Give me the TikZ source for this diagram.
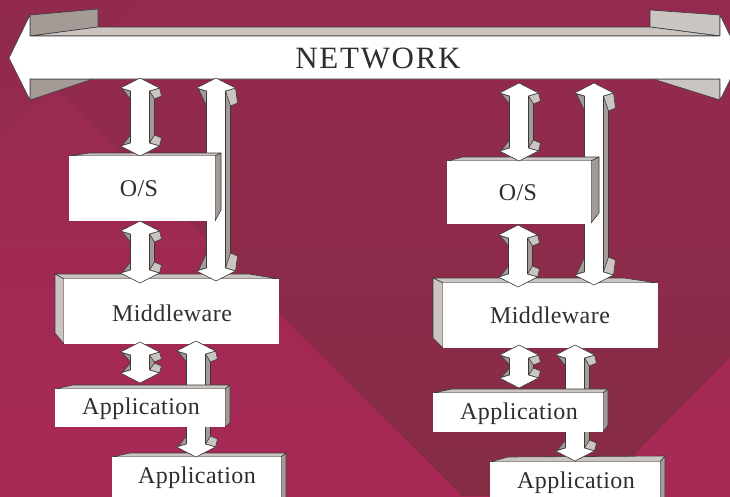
\documentclass[tikz,border=0pt]{standalone}
\usepackage{fontspec}
\setmainfont{Liberation Serif}
\usetikzlibrary{calc}

\definecolor{bgtop}{HTML}{952A50}
\definecolor{bgbot}{HTML}{A92956}
\definecolor{bgdark}{HTML}{862C45}
\definecolor{facelight}{HTML}{CBC5C1}
\definecolor{facedark}{HTML}{A49A96}
\definecolor{edgegray}{HTML}{3A3A3A}
\definecolor{inkgray}{HTML}{2E2E2E}

\tikzset{
  face/.style={draw=edgegray, line width=0.6pt, line join=round},
  frontface/.style={fill=white},
  arrowfront/.style={face, fill=white},
  lightface/.style={face, fill=facelight},
  darkface/.style={face, fill=facedark},
  boxlabel/.style={font=\fontsize{24}{24}\selectfont\addfontfeature{LetterSpace=1.8}, text=inkgray, inner sep=0pt},
  netlabel/.style={font=\fontsize{31}{31}\selectfont\addfontfeature{LetterSpace=5.5}, text=inkgray, inner sep=0pt}
}

% 3D double-headed block arrow between two named tips
% #1 name, #2 centre x, #3 top tip y, #4 bottom tip y, #5 flap depth
\newcommand\dblarrow[5]{%
  \coordinate (#1-top) at (#2,#3);
  \coordinate (#1-bot) at (#2,#4);
  \pgfmathsetmacro\arrL{#4-#3}%
  \begin{scope}[shift={(#1-top)}]
    \draw[darkface] (9.5,13) -- (14.5,16) -- (14.5,\arrL-16) -- (9.5,\arrL-13) -- cycle;
    \draw[lightface] (9.5,13) -- (19.5,10) -- (21.5,10+#5) -- (14.5,13+#5) -- cycle;
    \draw[darkface] (-9.5,13) -- (-17.5,11) -- (-9.5,13+#5) -- cycle;
    \draw[lightface] (9.5,\arrL-13) -- (19.5,\arrL-10) -- (21.5,\arrL-10-#5) -- (14.5,\arrL-13-#5) -- cycle;
    \draw[darkface] (-9.5,\arrL-13) -- (-17.5,\arrL-11) -- (-9.5,\arrL-13-#5) -- cycle;
    \draw[arrowfront] (0,0) -- (19.5,10) -- (9.5,13) -- (9.5,\arrL-13) -- (19.5,\arrL-10)
      -- (0,\arrL) -- (-19.5,\arrL-10) -- (-9.5,\arrL-13) -- (-9.5,13) -- (-19.5,10) -- cycle;
  \end{scope}
}

\begin{document}
\begin{tikzpicture}[x=1pt,y=-1pt]
\useasboundingbox (0,0) rectangle (730,496);
\begin{scope}
\clip (0,0) rectangle (730,496);

% backdrop
\shade[top color=bgtop, bottom color=bgbot] (0,0) rectangle (730,496);
\shade[top color=bgtop, bottom color=bgdark] (-33,0) -- (462,496) -- (594,496) -- (730,357) -- (730,0) -- cycle;
\fill[bgdark, opacity=0.25] (0,0) -- (138,0) -- (0,138) -- cycle;

% network bus
\draw[darkface] (30,15) -- (98,9) -- (98,27) -- (30,36) -- cycle;
\draw[lightface] (720,15) -- (650,10) -- (650,27) -- (720,36) -- cycle;
\draw[lightface] (30,36) -- (98,27) -- (650,27) -- (720,36) -- cycle;
\draw[darkface] (30,79) -- (93,79) -- (30,100) -- cycle;
\draw[lightface] (720,79) -- (653,79) -- (720,100) -- cycle;
\draw[arrowfront] (9,58) -- (30,15) -- (30,36) -- (720,36) -- (720,15) -- (741,58)
  -- (720,100) -- (720,79) -- (30,79) -- (30,100) -- cycle;
\node[netlabel] (net) at (378,58) {NETWORK};

% middleware layers
\draw[lightface] (55,274) -- (64,279) -- (279,279) -- (249,274) -- cycle;
\draw[lightface] (55,274) -- (64,279) -- (64,344) -- (55,333) -- cycle;
\fill[frontface] (64,279) rectangle (279,344);
\node[boxlabel] (mwL) at (172,313) {Middleware};

\draw[lightface] (433,278) -- (443,283) -- (658,283) -- (624,278) -- cycle;
\draw[lightface] (433,278) -- (443,283) -- (443,348) -- (433,338) -- cycle;
\fill[frontface] (443,283) rectangle (658,348);
\node[boxlabel] (mwR) at (550,315) {Middleware};

% lower applications
\draw[lightface] (112,457) -- (130,453) -- (286,453) -- (281,457) -- cycle;
\draw[darkface] (281,457) -- (286,453) -- (286,500) -- (281,500) -- cycle;
\fill[frontface] (112,457) rectangle (281,500);
\node[boxlabel] (apL2) at (197,478) {Application};

\draw[lightface] (490,462) -- (508,457) -- (665,456) -- (660,462) -- cycle;
\draw[darkface] (660,462) -- (665,456) -- (665,500) -- (660,500) -- cycle;
\fill[frontface] (490,462) rectangle (660,500);
\node[boxlabel] (apR2) at (576,483) {Application};

% arrows that pass behind other layers
\dblarrow{a2}{216}{78}{281}{15}
\dblarrow{b2}{594}{83}{285}{15}
\dblarrow{a5}{196}{341}{457}{8}
\dblarrow{b5}{575}{345}{461}{8}

% operating systems
\draw[lightface] (69,156) -- (90,153) -- (221,153) -- (215,156) -- cycle;
\draw[darkface] (215,156) -- (221,153) -- (221,210) -- (215,221) -- cycle;
\fill[frontface] (69,156) rectangle (215,221);
\node[boxlabel] (osL) at (139,189) {O/S};

\draw[lightface] (447,161) -- (463,157) -- (599,157) -- (591,161) -- cycle;
\draw[darkface] (591,161) -- (599,157) -- (599,213) -- (591,223) -- cycle;
\fill[frontface] (447,161) rectangle (591,224);
\node[boxlabel] (osR) at (518,193) {O/S};

% upper applications
\draw[lightface] (55,389) -- (73,385) -- (230,385) -- (225,389) -- cycle;
\draw[darkface] (225,389) -- (230,385) -- (230,423) -- (225,427) -- cycle;
\fill[frontface] (55,389) rectangle (225,427);
\node[boxlabel] (apL1) at (141,409) {Application};

\draw[lightface] (433,393) -- (452,389) -- (608,389) -- (603,393) -- cycle;
\draw[darkface] (603,393) -- (608,389) -- (608,425) -- (603,432) -- cycle;
\fill[frontface] (433,393) rectangle (603,432);
\node[boxlabel] (apR1) at (519,414) {Application};

% remaining links
\dblarrow{a1}{140}{78}{156}{8}
\dblarrow{b1}{519}{83}{161}{8}
\dblarrow{a3}{140}{221}{283}{8}
\dblarrow{b3}{518}{225}{287}{8}
\dblarrow{a4}{140}{342}{383}{7}
\dblarrow{b4}{519}{345}{388}{7}

\end{scope}
\end{tikzpicture}
\end{document}
